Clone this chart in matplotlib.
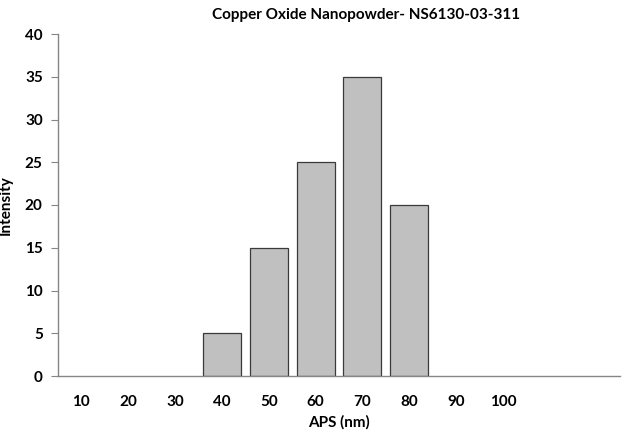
import numpy as np
import matplotlib
matplotlib.use("Agg")
import matplotlib.pyplot as plt

plt.rcParams['font.family'] = ['Lato', 'DejaVu Sans']

categories = ['10', '20', '30', '40', '50', '60', '70', '80', '90', '100', '', '']
intensity = [0, 0, 0, 5, 15, 25, 35, 20, 0, 0, 0, 0]
yticks = [0, 5, 10, 15, 20, 25, 30, 35, 40]

fig = plt.figure(figsize=(6.24, 4.33), dpi=100)
ax = fig.add_axes([58/624, 1 - 376/433, 562/624, 342/433])

x = np.arange(len(categories))
vals = np.array(intensity, dtype=float)
vals[vals == 0] = np.nan  # empty bins drawn as nothing
ax.bar(x, vals, width=0.81, color='#c0c0c0', edgecolor='#3a3a3a', linewidth=0.9)

ax.set_xlim(-0.5, len(categories) - 0.5)
ax.set_ylim(0, 40)
ax.set_yticks(yticks)
ax.set_xticks(x)
ax.set_xticklabels(categories, fontsize=11, fontweight='bold')
ax.tick_params(axis='x', length=0, pad=14)
ax.tick_params(axis='y', length=5, width=0.8, color='#868686', labelsize=11, pad=6)
for lbl in ax.get_yticklabels():
    lbl.set_fontweight('bold')

for s in ['top', 'right']:
    ax.spines[s].set_visible(False)
for s in ['left', 'bottom']:
    ax.spines[s].set_color('#868686')
    ax.spines[s].set_linewidth(1.0)

ax.set_xlabel('APS (nm)', fontsize=11, fontweight='bold', labelpad=4)
ax.set_ylabel('Intensity', fontsize=11, fontweight='bold')
ax.yaxis.set_label_coords(-45/562, 0.5)
fig.text(366/624, 1 - 15/433, 'Copper Oxide Nanopowder- NS6130-03-311',
         ha='center', va='center', fontsize=11, fontweight='bold')

fig.savefig('out.png', dpi=100)
